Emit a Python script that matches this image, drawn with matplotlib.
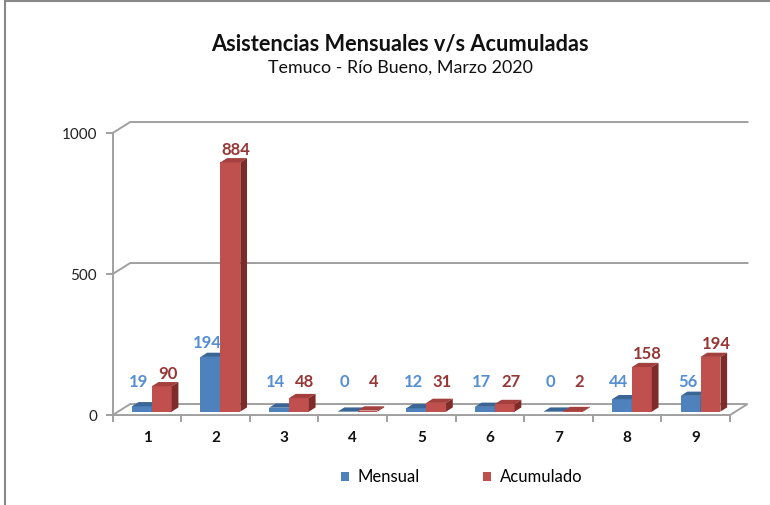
import numpy as np
import matplotlib.pyplot as plt
from matplotlib.patches import Polygon, Patch
from matplotlib.lines import Line2D

# Datos
categorias = ['1', '2', '3', '4', '5', '6', '7', '8', '9']
mensual = np.array([19, 194, 14, 0, 12, 17, 0, 44, 56])
acumulado = np.array([90, 884, 48, 4, 31, 27, 2, 158, 194])
y_ticks = [0, 500, 1000]

plt.rcParams['font.family'] = ['Lato', 'DejaVu Sans']

fig = plt.figure(figsize=(7.7, 5.05), dpi=100)
ax = fig.add_axes([0, 0, 1, 1])
ax.set_xlim(-1.143, 10.083)
ax.set_ylim(-319, 1471.6)
ax.axis('off')

# profundidad del efecto 3D (en unidades de datos)
DX, DY = 0.255, 39
grid_col = '#a0a0a0'
n = len(categorias)
x0, x1 = 0.5, n + 0.5

# pared de fondo: lineas de cuadricula
for v in y_ticks[1:]:
    ax.plot([x0, x0 + DX, x1 + DX], [v, v + DY, v + DY], color=grid_col, lw=1.4, zorder=1)

# piso
piso = Polygon([(x0, 0), (x1, 0), (x1 + DX, DY), (x0 + DX, DY)], closed=True,
               facecolor='white', edgecolor=grid_col, lw=1.4, zorder=1)
ax.add_patch(piso)

# eje vertical frontal
ax.plot([x0, x0], [0, 1000], color=grid_col, lw=1.4, zorder=2)
for v in y_ticks:
    ax.plot([x0 - 0.08, x0], [v, v], color=grid_col, lw=1.4, zorder=2)
    ax.text(x0 - 0.23, v - 8, str(v), ha='right', va='center', fontsize=11, color='#222222')

# marcas del eje x
for i in range(n + 1):
    ax.plot([x0 + i, x0 + i], [0, -22], color=grid_col, lw=1.4, zorder=2)
for i, c in enumerate(categorias):
    ax.text(i + 1, -80, c, ha='center', va='center', fontsize=11, fontweight='bold', color='#111111')


def barra3d(xl, w, v, front, top, side):
    bdx, bdy = 0.098, 15
    base = 12
    h = base + v
    ax.add_patch(Polygon([(xl, base), (xl + w, base), (xl + w, h), (xl, h)],
                         closed=True, facecolor=front, edgecolor='none', zorder=3))
    ax.add_patch(Polygon([(xl, h), (xl + w, h), (xl + w + bdx, h + bdy), (xl + bdx, h + bdy)],
                         closed=True, facecolor=top, edgecolor='none', zorder=3))
    ax.add_patch(Polygon([(xl + w, base), (xl + w + bdx, base + bdy), (xl + w + bdx, h + bdy), (xl + w, h)],
                         closed=True, facecolor=side, edgecolor='none', zorder=3))


ancho = 0.29
azul = ('#4f81bd', '#3a6597', '#2f5788')
rojo = ('#c0504d', '#a33f3c', '#7f2b29')
for i in range(n):
    c = i + 1
    barra3d(c - 0.22, ancho, mensual[i], *azul)
    barra3d(c + 0.07, ancho, acumulado[i], *rojo)
    ax.text(c - 0.12, max(mensual[i] + 50, 105) + 12, str(mensual[i]), ha='center', va='center',
            fontsize=12, fontweight='bold', color='#558ed5', zorder=4)
    ax.text(c + 0.3, max(acumulado[i] + 45, 105) + 12, str(acumulado[i]), ha='center', va='center',
            fontsize=12, fontweight='bold', color='#953735', zorder=4)

# titulos
fig.text(400 / 770, 1 - 45 / 505, 'Asistencias Mensuales v/s Acumuladas', ha='center', va='center',
         fontsize=15.7, fontweight='bold', color='#111111')
fig.text(400 / 770, 1 - 68 / 505, 'Temuco - Río Bueno, Marzo 2020', ha='center', va='center',
         fontsize=12.9, color='#111111')

# leyenda
handles = [Patch(facecolor=azul[0], label='Mensual'), Patch(facecolor=rojo[0], label='Acumulado')]
fig.legend(handles=handles, loc='center', bbox_to_anchor=(462 / 770, 1 - 477 / 505), ncol=2,
           frameon=False, fontsize=12, handlelength=0.45, handleheight=0.45, handletextpad=0.55,
           columnspacing=3.8)

# borde del grafico
fig.add_artist(Line2D([5 / 770, 5 / 770], [0, 1 - 1 / 505], color='#888888', lw=1.5))
fig.add_artist(Line2D([5 / 770, 1], [1 - 1 / 505, 1 - 1 / 505], color='#888888', lw=1.5))

fig.savefig('out.png', dpi=100)
